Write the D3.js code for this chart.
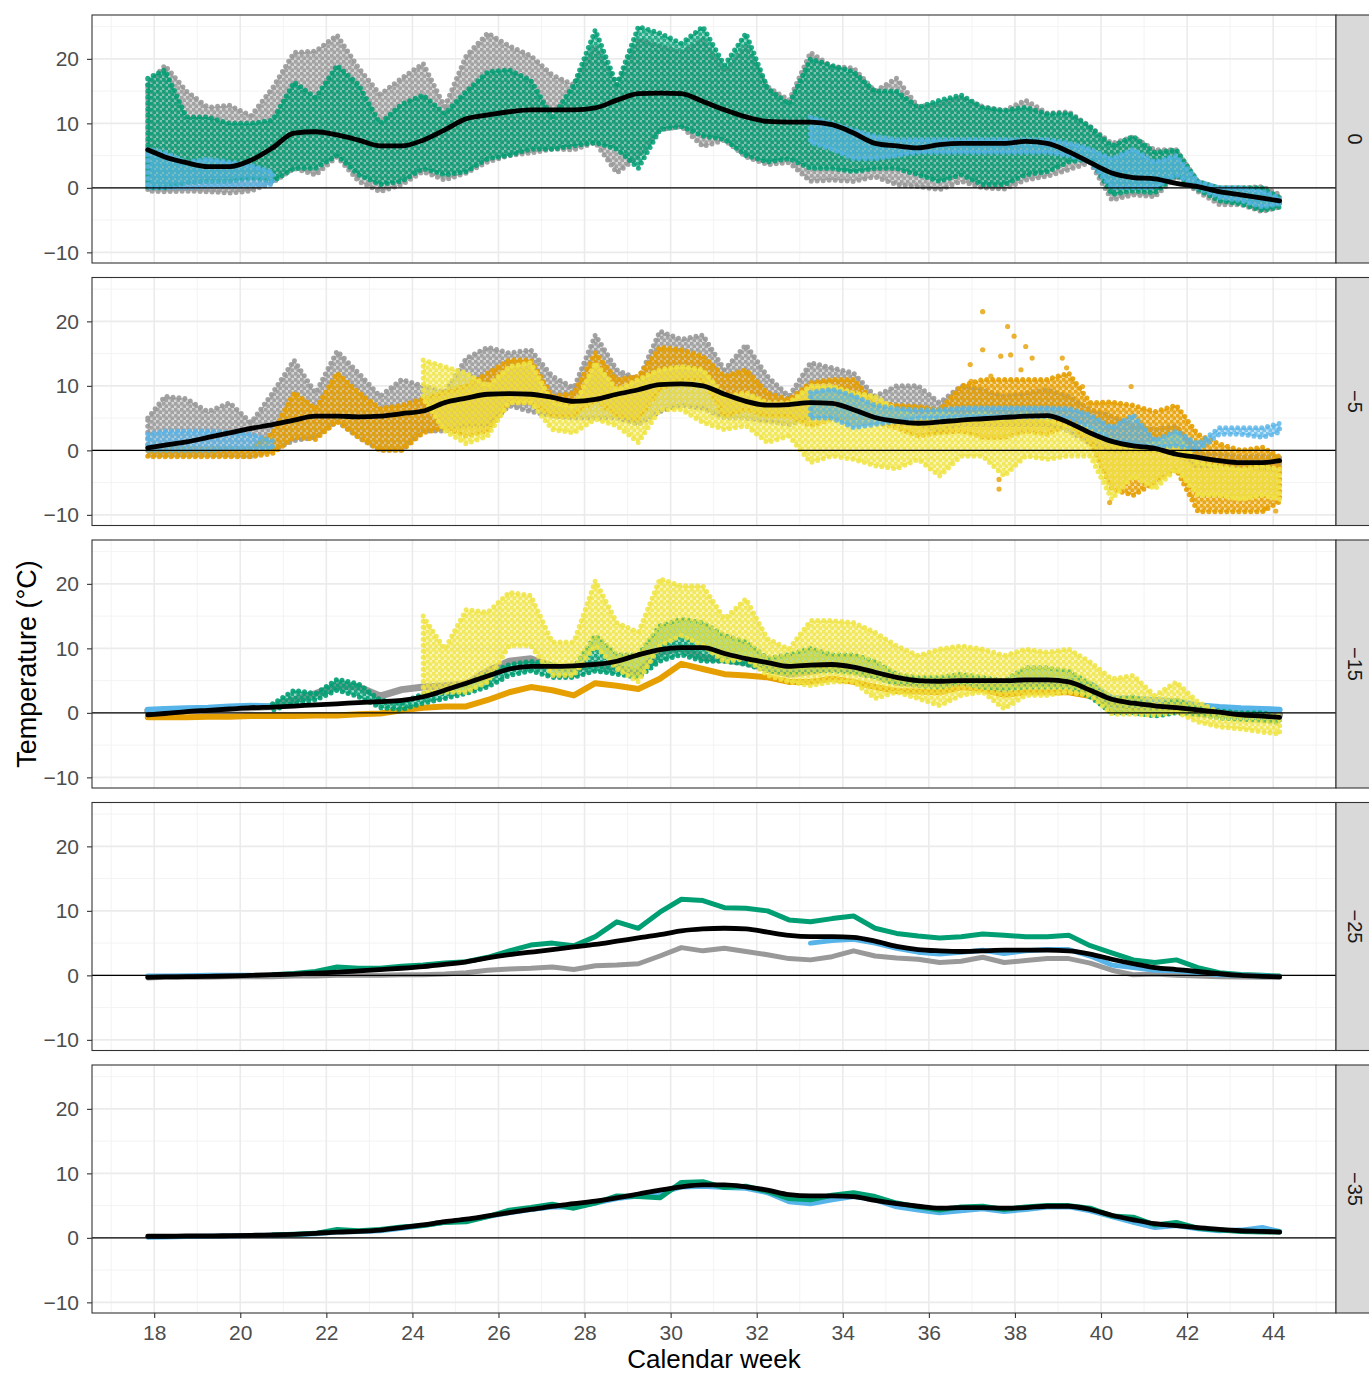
<!DOCTYPE html>
<html>
<head>
<meta charset="utf-8">
<script src="https://cdn.jsdelivr.net/npm/d3@7"></script>
<style>
  body { margin: 0; background: #fff; }
  svg { display: block; }
  text { font-family: "Liberation Sans", Arial, sans-serif; }
</style>
</head>
<body>
<div id="chart"></div>
<script>
// sample times (calendar week), shared by every series
const weeks = [17.85, 18.25, 18.75, 19.25, 19.75, 20.25, 20.75, 21.25, 21.75, 22.25, 22.75, 23.25, 23.75,
  24.25, 24.75, 25.25, 25.75, 26.25, 26.75, 27.25, 27.75, 28.25, 28.75, 29.25, 29.75, 30.25, 30.75,
  31.25, 31.75, 32.25, 32.75, 33.25, 33.75, 34.25, 34.75, 35.25, 35.75, 36.25, 36.75, 37.25, 37.75,
  38.25, 38.75, 39.25, 39.75, 40.25, 40.75, 41.25, 41.75, 42.25, 42.75, 43.25, 43.75, 44.15]

const depthLabels = ["0", "\u22125", "\u221215", "\u221225", "\u221235"]
const weekTicks = [18, 20, 22, 24, 26, 28, 30, 32, 34, 36, 38, 40, 42, 44]
const tempTicks = [-10, 0, 10, 20]

// ---- depth 0 : scatter clouds (low / high of each half week)
const p1GrayLo = [-0.5, -0.6, -0.5, -0.6, -0.8, -0.5, 0.8, 3, 2, 4.8, 1, -0.6, 0.5, 2.5, 1.2, 2.3, 4, 5, 5.4, 6, 5.9, 7, 2.3, 4.8, 9, 9.5, 6.4, 7.4, 4.8, 3.6, 3.9, 1, 1.2, 1, 1.7, 0.5, 0.2, -0.3, 1, 0, -0.2, 1.2, 1.8, 2.8, 3.9, -1.9, -1.1, -1.4, 1.8, -0.6, -2.6, -2.6, -3.7, -3]
const p1GrayHi = [16, 19, 15, 12.5, 12.8, 11.2, 15.5, 21, 21.2, 23.7, 18.6, 14.5, 17, 19.3, 12.6, 20.5, 24, 22, 20.5, 17.5, 16, 22, 16, 23, 22, 21, 23, 18, 22, 15.7, 13.6, 21, 18.8, 18.6, 15, 17, 12.6, 13, 14, 12.6, 12, 13.6, 11.6, 11.8, 9.5, 6.9, 7.9, 5.9, 5.9, 1, 0, 0, 0.2, -1]
const p1GreenLo = [0, 0, 0.8, 1, 1, 1.5, 1, 3, 3, 5, 2, 0.5, 1, 3, 2, 2.5, 4.5, 5, 6, 6, 6.5, 7, 6, 3, 9, 9.5, 8, 7.5, 5, 4, 4.5, 3, 3, 2.5, 3, 3, 2, 1, 2, 0.5, 0.5, 2, 2.5, 4, 4.5, -1, -0.5, -0.8, 2, -0.3, -2, -2.5, -3.5, -3]
const p1GreenHi = [17, 18.3, 11, 11, 10, 10, 10.5, 16.4, 14, 19, 16, 10, 13, 14.4, 11.5, 15, 18, 18.3, 16.7, 11, 16, 24.5, 16, 25, 24, 22.4, 25, 19, 24, 15.5, 13, 20, 19, 18, 15, 15, 12.5, 13.6, 14.4, 12.5, 12, 12.5, 11.5, 11.6, 9.5, 6.5, 8, 5.5, 5.9, 1, 0, 0, 0, -1.5]
const p1BlueLo = [0, 0, 0, 0.2, 0.2, 0.3, 0.5, null, null, null, null, null, null, null, null, null, null, null, null, null, null, null, null, null, null, null, null, null, null, null, null, 7, 6, 4.5, 4.5, 5, 5.5, 5.5, 5.5, 5.5, 5.5, 5.5, 5.5, 5, 4, 0, 0, 0, 2, 0, -1.5, -2, -3, -2.5]
const p1BlueHi = [6, 5.5, 4, 4.5, 4, 3.5, 2.5, null, null, null, null, null, null, null, null, null, null, null, null, null, null, null, null, null, null, null, null, null, null, null, null, 11, 10, 9, 8, 7.5, 7.5, 7.5, 7.5, 7.5, 7.5, 7.5, 7.5, 7, 6, 4.5, 6, 4, 5, 1, 0, 0, -0.5, -1.5]
const p1Smooth = [5.9, 4.8, 3.9, 3.3, 3.3, 4.3, 6.2, 8.5, 8.7, 8.2, 7.4, 6.5, 6.5, 7.4, 9.0, 10.7, 11.3, 11.8, 12.1, 12.1, 12.1, 12.4, 13.6, 14.6, 14.7, 14.6, 13.4, 12.1, 11.0, 10.3, 10.2, 10.2, 9.8, 8.5, 6.9, 6.5, 6.2, 6.7, 6.9, 6.9, 6.9, 7.2, 6.9, 5.6, 3.9, 2.3, 1.6, 1.4, 0.7, 0.2, -0.6, -1.1, -1.6, -2.0]

// ---- depth -5
const p2GrayLo = [-0.8, -0.8, -0.8, -0.8, -0.8, -1, 0, 1.5, 2, 4.5, 2, 0, 0, 3, 3, 3.8, 3.8, 6.9, 6, 5.3, 5, 5, 5, 4, 6, 7, 6.5, 5, 5, 4.5, 4, 5, 5.5, 5, 5, 4, 4, 3, 4, 4, 4, 4, 4, 3, 1, 0, 0, 0, -0.5, -2.5, -2.4, -2.5, -2.9, -3]
const p2GrayHi = [5, 8.4, 8, 6, 7.4, 4.3, 8.9, 14, 8.9, 15.4, 12, 8.4, 11, 10, 9, 14.3, 16, 15.1, 15.6, 11.5, 9.7, 17.9, 12.5, 11, 18.5, 17.2, 17.9, 12.5, 16.4, 11.5, 8.4, 13.6, 12.8, 12, 8.4, 10, 10, 7.4, 10, 9.4, 8.4, 8.9, 9.4, 8.4, 6.3, 5.3, 3.8, 3.2, 3.8, -0.5, -0.6, -1, -0.9, -1]
const p2OrangeLo = [-1, -1, -1, -1, -1, -1, -0.5, 2, 1.7, 4.5, 2, 0, 0, 2.7, 3.5, 2.2, 3, 7.4, 7.4, 5.3, 5.3, 7.9, 5.3, 4.8, 9.4, 11, 11, 5.3, 6.3, 5.3, 5.3, 3.8, 4.8, 4.3, 4.3, 3.5, 2.2, 2.7, 3, 2, 2, 3, 2.5, 4, 1.2, -6, -7, -5, -3, -9.5, -9.5, -9.5, -9.5, -8]
const p2OrangeHi = [0.3, 0.3, 0.3, 0.3, 0.3, 0.3, 2.7, 9, 6.5, 12, 9, 6.5, 7, 8, 9, 10, 12, 14, 14, 8.4, 8.9, 15.1, 11, 11.5, 16, 15.6, 14.6, 11.5, 12.5, 8.9, 7.9, 10.5, 11, 11, 7.4, 7, 6.8, 6.3, 10, 11, 11, 11, 11, 12, 7.4, 7.5, 7, 6, 7, 2.5, 1, 0, 0.5, -1]
const p2OrangeSparseWeek = [37.25, 37.83, 37.98, 36.96, 37.25, 37.67, 37.9, 38.25, 38.4, 39.1, 39.2, 39.57, 40.7, 36.98, 37.63, 37.63, 40.2, 43.8, 44.06, 37.44, 38.14]
const p2OrangeSparseTemp = [21.5, 19.2, 17.7, 13.3, 15.6, 14.6, 14.8, 16.1, 14.3, 14.3, 12.8, 9.9, 9.9, 10.7, -4.5, -6, -8.1, -9.1, -9.4, 11.5, 12.5]
const p2YellowLo = [null, null, null, null, null, null, null, null, null, null, null, null, null, 8, 3, 1, 2.2, 7.4, 7.4, 3.2, 2.7, 4.8, 3.8, 1.2, 6.3, 6.3, 4.3, 3.2, 3.8, 1.2, 2.2, -1.9, -0.9, -1.4, -2.4, -2.9, -1.4, -4, -0.9, -0.9, -4, -0.9, -1.4, -0.9, -0.9, -7.6, -4, -6, -2.9, -7, -7, -7.6, -7, -7.6]
const p2YellowHi = [null, null, null, null, null, null, null, null, null, null, null, null, null, 14, 13, 12, 10, 13, 13.6, 7.4, 6.8, 13.6, 9.4, 11, 12.5, 13, 12.5, 8.4, 8.9, 7.4, 7.4, 10, 10, 8.9, 8.4, 6.3, 5.3, 5.8, 5.3, 5.8, 4.8, 5.8, 4.8, 3.8, 3.8, 1.7, 0.2, 1.2, 2.7, -1.9, -2.4, -2.9, -2.4, -2.9]
const p2BlueLo = [0, 0, 0, 0, 0.2, 0.2, 0.3, null, null, null, null, null, null, null, null, null, null, null, null, null, null, null, null, null, null, null, null, null, null, null, null, 5, 5, 3.5, 4, 4.5, 5, 5, 5.2, 5.2, 5.2, 5.2, 5.2, 5, 3.5, 1.5, 1, 0.5, 0.7, 0, 2.5, 2.5, 2, 2.8]
const p2BlueHi = [2.5, 3, 3, 3, 2.8, 2.5, 1.5, null, null, null, null, null, null, null, null, null, null, null, null, null, null, null, null, null, null, null, null, null, null, null, null, 9, 9.5, 8.5, 7, 6.5, 6.3, 6.3, 6.6, 6.6, 6.6, 6.6, 6.6, 6.5, 5.5, 3.5, 5.5, 1.5, 3, 1, 3.5, 3.5, 3.5, 4.2]
const p2Smooth = [0.4, 0.8, 1.3, 2.0, 2.7, 3.4, 4.0, 4.7, 5.3, 5.3, 5.2, 5.3, 5.7, 6.1, 7.4, 8.1, 8.7, 8.8, 8.7, 8.2, 7.6, 7.9, 8.7, 9.4, 10.2, 10.3, 10.0, 8.7, 7.6, 7.0, 7.1, 7.4, 7.3, 6.3, 5.1, 4.5, 4.2, 4.4, 4.7, 4.9, 5.1, 5.3, 5.4, 4.3, 2.7, 1.4, 0.7, 0.3, -0.6, -1.1, -1.6, -1.9, -1.9, -1.6]

// ---- depth -15
const p3Orange = [-0.7, -0.7, -0.7, -0.6, -0.6, -0.5, -0.5, -0.5, -0.4, -0.4, -0.2, -0.1, 0.4, 0.8, 1.0, 1.0, 2.0, 3.2, 4.0, 3.5, 2.7, 4.6, 4.2, 3.7, 5.3, 7.6, 6.8, 6.0, 5.8, 5.5, 4.8, 4.8, 5.3, 4.8, 4.0, 3.4, 3.3, 3.2, 4.0, 3.6, 2.8, 3.2, 3.2, 3.2, 2.6, 1.4, 0.9, 0.8, 0.6, 0.2, 0.1, 0, -0.1, -0.2]
const p3Gray = [0.3, 0.4, 0.5, 0.6, 0.7, 0.8, 1.0, 2.0, 3.0, 4.2, 4.0, 2.6, 3.6, 4.0, 4.2, 4.5, 6.5, 8.0, 8.4, 7.2, 6.8, 7.6, 7.0, 6.2, 9.4, 10.0, 8.6, 8.2, 7.8, 6.8, 6.0, 6.4, 7.0, 6.6, 5.8, 4.8, 4.6, 4.4, 5.0, 4.4, 4.0, 4.6, 4.6, 4.4, 3.4, 1.5, 1.2, 0.8, 1.2, 0.4, 0.2, 0, -0.2, -0.3]
const p3Blue = [0.5, 0.6, 0.7, 0.8, 1.0, 1.1, 1.0, null, null, null, null, null, null, null, null, null, null, null, null, null, null, null, null, null, null, null, null, null, null, null, null, null, null, null, null, null, null, null, null, null, null, null, null, 5.0, 4.5, 2.3, 2.2, 2.0, 1.8, 1.2, 0.9, 0.7, 0.6, 0.5]
const p3GreenLo = [null, null, null, null, null, null, 0.4, 1.5, 2, 3.5, 2.5, 0.8, 0.5, 1.5, 2.2, 3, 4, 5.8, 6.5, 5.5, 5.5, 6.5, 6, 5.5, 8, 9, 8, 8, 7.5, 6.5, 6, 6.5, 6.5, 6.2, 5.5, 4.5, 4.2, 4, 4.5, 4, 3.5, 4, 4, 4, 2.5, 0, 0, -0.5, 0, -0.3, -0.8, -1, -1.2, -1.5]
const p3GreenHi = [null, null, null, null, null, null, 1.4, 3.5, 3, 5.2, 4.5, 2, 1.5, 3, 3.2, 4.5, 6, 7.5, 8, 7.5, 7, 12, 9, 9, 13.5, 14.5, 14, 12, 11, 8.5, 9, 10, 9, 9, 8, 6, 5.5, 5.5, 6, 5.5, 5, 7, 7, 6.5, 4.5, 2, 2.5, 1, 2, 0.8, 0.3, 0, 0, -0.5]
const p3YellowLo = [null, null, null, null, null, null, null, null, null, null, null, null, null, 3, 3.2, 3.2, 4.8, 10.4, 10.4, 5.8, 5.8, 10.4, 6.8, 4.8, 10.4, 12, 10.4, 7.9, 8.4, 5.8, 4.8, 4.2, 4.8, 4.8, 2.2, 3.2, 2.2, 1.1, 2.7, 3.2, 0.6, 2.7, 2.7, 3.2, 2.7, -0.2, -0.2, -0.4, 0.1, -1.4, -2.2, -2.5, -3, -3.3]
const p3YellowHi = [null, null, null, null, null, null, null, null, null, null, null, null, null, 15, 9.9, 16, 15.6, 18.7, 18.2, 11, 11, 20.5, 14, 12.5, 20.8, 19.7, 19.7, 14.6, 17.7, 11.5, 9.9, 14.3, 14.3, 14, 12.5, 10.4, 8.9, 9.9, 10.4, 9.9, 8.9, 9.9, 9.4, 9.9, 7.9, 5.3, 5.8, 2.7, 4.8, 1.7, 0.1, -0.4, -0.4, -0.4]
const p3Smooth = [-0.3, -0.1, 0.2, 0.4, 0.6, 0.8, 0.9, 1.05, 1.25, 1.4, 1.6, 1.75, 1.95, 2.5, 3.5, 4.6, 5.7, 6.8, 7.2, 7.2, 7.3, 7.5, 8.0, 9.0, 9.8, 10.1, 10.1, 9.2, 8.4, 7.8, 7.2, 7.4, 7.5, 7.1, 6.3, 5.5, 5.0, 4.9, 5.0, 5.0, 5.0, 5.1, 5.1, 4.8, 3.5, 2.1, 1.5, 1.1, 0.8, 0.45, 0.1, -0.3, -0.5, -0.7]

// ---- depth -25
const p4Gray = [-0.4, -0.3, -0.3, -0.3, -0.2, -0.2, -0.2, -0.1, -0.1, 0, 0, 0, 0.1, 0.1, 0.2, 0.4, 0.8, 1.0, 1.1, 1.3, 0.9, 1.5, 1.6, 1.8, 3.0, 4.3, 3.8, 4.2, 3.7, 3.2, 2.6, 2.4, 2.9, 3.8, 3.0, 2.7, 2.5, 2.0, 2.2, 2.8, 2.0, 2.3, 2.6, 2.6, 1.9, 0.8, 0.1, 0.2, 0, -0.1, -0.2, -0.25, -0.3, -0.3]
const p4Green = [null, null, null, null, null, null, 0.1, 0.3, 0.6, 1.3, 1.1, 1.1, 1.4, 1.6, 1.9, 2.1, 2.8, 3.8, 4.7, 5.0, 4.6, 6.0, 8.3, 7.3, 9.8, 11.8, 11.6, 10.5, 10.4, 10.0, 8.6, 8.3, 8.8, 9.2, 7.3, 6.5, 6.1, 5.8, 6.0, 6.4, 6.2, 6.0, 6.0, 6.2, 4.6, 3.5, 2.4, 2.0, 2.4, 1.2, 0.4, 0.15, 0, -0.1]
const p4Blue = [-0.1, -0.1, -0.05, 0, 0, 0, null, null, null, null, null, null, null, null, null, null, null, null, null, null, null, null, null, null, null, null, null, null, null, null, null, 5.0, 5.4, 5.6, 5.0, 4.2, 3.6, 3.3, 3.6, 3.9, 3.4, 3.8, 4.0, 4.0, 3.0, 1.6, 1.2, 0.8, 0.7, 0.4, 0.1, 0, -0.1, -0.2]
const p4Smooth = [-0.3, -0.25, -0.2, -0.15, -0.1, 0, 0.1, 0.2, 0.35, 0.5, 0.7, 0.9, 1.1, 1.35, 1.7, 2.1, 2.7, 3.2, 3.6, 4.0, 4.4, 4.8, 5.3, 5.8, 6.3, 6.9, 7.2, 7.3, 7.2, 6.7, 6.2, 6.0, 6.0, 5.9, 5.3, 4.5, 4.0, 3.8, 3.7, 3.8, 3.9, 3.9, 3.9, 3.8, 3.3, 2.5, 1.8, 1.2, 0.9, 0.6, 0.25, 0, -0.15, -0.25]

// ---- depth -35
const p5Blue = [0.1, 0.15, 0.2, 0.25, 0.3, 0.35, 0.4, 0.5, 0.65, 0.9, 1.0, 1.1, 1.5, 1.9, 2.4, 2.7, 3.3, 3.9, 4.4, 4.8, 4.8, 5.4, 6.1, 6.5, 6.9, 7.9, 8.0, 7.8, 7.7, 7.0, 5.6, 5.3, 5.9, 6.4, 5.9, 4.8, 4.3, 3.9, 4.2, 4.5, 4.1, 4.4, 4.8, 4.8, 4.2, 3.3, 2.4, 1.6, 1.9, 1.4, 1.1, 1.2, 1.6, 1.0]
const p5Green = [null, null, null, null, null, null, 0.45, 0.55, 0.7, 1.3, 1.1, 1.3, 1.7, 1.9, 2.4, 2.5, 3.3, 4.3, 4.7, 5.2, 4.6, 5.4, 6.5, 6.4, 6.2, 8.6, 8.7, 7.8, 8.0, 7.2, 6.1, 5.9, 6.6, 7.0, 6.4, 5.4, 4.8, 4.3, 4.8, 4.9, 4.4, 4.8, 5.0, 5.0, 4.6, 3.4, 3.2, 2.0, 2.4, 1.5, 1.2, 1.0, 0.9, 0.9]
const p5Smooth = [0.25, 0.25, 0.3, 0.3, 0.35, 0.4, 0.45, 0.55, 0.7, 0.9, 1.0, 1.2, 1.6, 2.0, 2.5, 2.9, 3.4, 3.9, 4.4, 4.9, 5.3, 5.7, 6.2, 6.8, 7.4, 7.9, 8.2, 8.2, 7.9, 7.4, 6.7, 6.5, 6.5, 6.4, 5.8, 5.3, 4.9, 4.6, 4.7, 4.7, 4.6, 4.7, 4.9, 4.9, 4.4, 3.5, 2.8, 2.2, 1.9, 1.6, 1.3, 1.1, 1.0, 0.9]

const colGray = "#999999", colBlue = "#56B4E9", colGreen = "#009E73",
      colOrange = "#E69F00", colYellow = "#F0E442"

// layout
let width = 1369, height = 1375
let left = 92, right = 1336, panelH = 248
let panelTop = [15, 277.5, 540, 802.5, 1065]

let svg = d3.select("#chart").append("svg")
  .attr("width", width)
  .attr("height", height)

let x = d3.scaleLinear().domain([16.555, 45.46]).range([left, right])

// dotted fill so the clouds read as scattered points
let defs = svg.append("defs")
let colours = { gray: colGray, blue: colBlue, green: colGreen, orange: colOrange, yellow: colYellow }
Object.keys(colours).forEach(name => {
  let pat = defs.append("pattern")
    .attr("id", "dots-" + name)
    .attr("patternUnits", "userSpaceOnUse")
    .attr("width", 6).attr("height", 6)
  pat.append("rect").attr("width", 6).attr("height", 6)
    .attr("fill", colours[name]).attr("fill-opacity", 0.45)
  pat.append("circle").attr("cx", 1.5).attr("cy", 1.5).attr("r", 2.2).attr("fill", colours[name])
  pat.append("circle").attr("cx", 4.5).attr("cy", 4.5).attr("r", 2.2).attr("fill", colours[name])
})

// one scatter cloud drawn as a band between the low and high readings
function cloud(g, y, lo, hi, name, op) {
  let pts = weeks.map((w, i) => ({ w: w, lo: lo[i], hi: hi[i] }))
  let area = d3.area()
    .defined(d => d.lo != null && d.hi != null)
    .x(d => x(d.w))
    .y0(d => y(d.lo))
    .y1(d => y(d.hi))
  g.append("path").datum(pts)
    .attr("d", area)
    .attr("fill", "url(#dots-" + name + ")")
    .attr("fill-opacity", op)
    .attr("stroke", colours[name])
    .attr("stroke-opacity", op)
    .attr("stroke-width", 5)
    .attr("stroke-linecap", "round")
    .attr("stroke-dasharray", "0,6")
}

function trace(g, y, vals, color, w, curve) {
  let line = d3.line()
    .defined(d => d.v != null)
    .x(d => x(d.w))
    .y(d => y(d.v))
    .curve(curve || d3.curveLinear)
  g.append("path").datum(weeks.map((wk, i) => ({ w: wk, v: vals[i] })))
    .attr("d", line)
    .attr("fill", "none")
    .attr("stroke", color)
    .attr("stroke-width", w)
    .attr("stroke-linejoin", "round")
    .attr("stroke-linecap", "round")
}

let panels = [
  { draw: (g, y) => {
      cloud(g, y, p1GrayLo, p1GrayHi, "gray", 0.9)
      cloud(g, y, p1GreenLo, p1GreenHi, "green", 0.85)
      cloud(g, y, p1BlueLo, p1BlueHi, "blue", 0.75)
      return p1Smooth } },
  { draw: (g, y) => {
      cloud(g, y, p2GrayLo, p2GrayHi, "gray", 0.9)
      cloud(g, y, p2OrangeLo, p2OrangeHi, "orange", 0.9)
      cloud(g, y, p2YellowLo, p2YellowHi, "yellow", 0.85)
      cloud(g, y, p2BlueLo, p2BlueHi, "blue", 0.8)
      g.selectAll("circle.sparse").data(p2OrangeSparseWeek).enter().append("circle")
        .attr("cx", d => x(d))
        .attr("cy", (d, i) => y(p2OrangeSparseTemp[i]))
        .attr("r", 2.6)
        .attr("fill", colOrange)
        .attr("fill-opacity", 0.8)
      return p2Smooth } },
  { draw: (g, y) => {
      trace(g, y, p3Orange, colOrange, 6)
      trace(g, y, p3Gray, colGray, 7)
      trace(g, y, p3Blue, colBlue, 6)
      cloud(g, y, p3GreenLo, p3GreenHi, "green", 0.9)
      cloud(g, y, p3YellowLo, p3YellowHi, "yellow", 0.85)
      return p3Smooth } },
  { draw: (g, y) => {
      trace(g, y, p4Gray, colGray, 5)
      trace(g, y, p4Green, colGreen, 5)
      trace(g, y, p4Blue, colBlue, 5)
      return p4Smooth } },
  { draw: (g, y) => {
      trace(g, y, p5Blue, colBlue, 5)
      trace(g, y, p5Green, colGreen, 5)
      return p5Smooth } }
]

panels.forEach((p, k) => {
  let top = panelTop[k]
  let y = d3.scaleLinear().domain([-11.65, 26.8]).range([top + panelH, top])
  let g = svg.append("g")

  g.append("rect")
    .attr("x", left).attr("y", top)
    .attr("width", right - left).attr("height", panelH)
    .attr("fill", "#fff")

  // grid: minor then major
  let minorW = d3.range(17, 46, 2), majorW = weekTicks
  let minorT = [-5, 5, 15, 25]
  g.selectAll("line.vmin").data(minorW).enter().append("line")
    .attr("x1", d => x(d)).attr("x2", d => x(d))
    .attr("y1", top).attr("y2", top + panelH)
    .attr("stroke", "#F2F2F2").attr("stroke-width", 0.9)
  g.selectAll("line.hmin").data(minorT).enter().append("line")
    .attr("x1", left).attr("x2", right)
    .attr("y1", d => y(d)).attr("y2", d => y(d))
    .attr("stroke", "#F2F2F2").attr("stroke-width", 0.9)
  g.selectAll("line.vmaj").data(majorW).enter().append("line")
    .attr("x1", d => x(d)).attr("x2", d => x(d))
    .attr("y1", top).attr("y2", top + panelH)
    .attr("stroke", "#EBEBEB").attr("stroke-width", 1.6)
  g.selectAll("line.hmaj").data(tempTicks).enter().append("line")
    .attr("x1", left).attr("x2", right)
    .attr("y1", d => y(d)).attr("y2", d => y(d))
    .attr("stroke", "#EBEBEB").attr("stroke-width", 1.6)

  let clipId = "clip" + k
  svg.append("clipPath").attr("id", clipId).append("rect")
    .attr("x", left).attr("y", top).attr("width", right - left).attr("height", panelH)
  let marks = g.append("g").attr("clip-path", "url(#" + clipId + ")")

  let smooth = p.draw(marks, y)

  // zero reference line
  marks.append("line")
    .attr("x1", left).attr("x2", right)
    .attr("y1", y(0)).attr("y2", y(0))
    .attr("stroke", "#000").attr("stroke-width", 1.4)

  trace(marks, y, smooth, "#000", 4.8, d3.curveMonotoneX)

  // panel border
  g.append("rect")
    .attr("x", left).attr("y", top)
    .attr("width", right - left).attr("height", panelH)
    .attr("fill", "none").attr("stroke", "#333333").attr("stroke-width", 1.1)

  // strip on the right
  g.append("rect")
    .attr("x", right).attr("y", top)
    .attr("width", 40).attr("height", panelH)
    .attr("fill", "#D9D9D9").attr("stroke", "#333333").attr("stroke-width", 1.1)
  g.append("text")
    .attr("transform", "translate(1355," + (top + panelH / 2) + ") rotate(90)")
    .attr("text-anchor", "middle")
    .attr("dominant-baseline", "central")
    .attr("font-size", 20)
    .attr("fill", "#1A1A1A")
    .text(depthLabels[k])

  // y axis
  let ax = g.append("g")
    .attr("transform", "translate(" + left + ",0)")
    .call(d3.axisLeft(y).tickValues(tempTicks).tickSize(5).tickPadding(8))
  ax.select(".domain").remove()
  ax.selectAll("line").attr("stroke", "#333333").attr("stroke-width", 1.1)
  ax.selectAll("text").attr("font-size", 21).attr("fill", "#4D4D4D")
    .style("font-family", "'Liberation Sans', Arial, sans-serif")

  if (k === panels.length - 1) {
    let bx = g.append("g")
      .attr("transform", "translate(0," + (top + panelH) + ")")
      .call(d3.axisBottom(x).tickValues(weekTicks).tickSize(5).tickPadding(7))
    bx.select(".domain").remove()
    bx.selectAll("line").attr("stroke", "#333333").attr("stroke-width", 1.1)
    bx.selectAll("text").attr("font-size", 21).attr("fill", "#4D4D4D")
      .style("font-family", "'Liberation Sans', Arial, sans-serif")
  }
})

// axis titles
svg.append("text")
  .attr("x", (left + right) / 2).attr("y", 1368)
  .attr("text-anchor", "middle")
  .attr("font-size", 26)
  .attr("fill", "#000")
  .text("Calendar week")

svg.append("text")
  .attr("transform", "translate(36," + ((panelTop[0] + panelTop[4] + panelH) / 2) + ") rotate(-90)")
  .attr("text-anchor", "middle")
  .attr("font-size", 27)
  .attr("fill", "#000")
  .text("Temperature (\u00B0C)")
</script>
</body>
</html>
